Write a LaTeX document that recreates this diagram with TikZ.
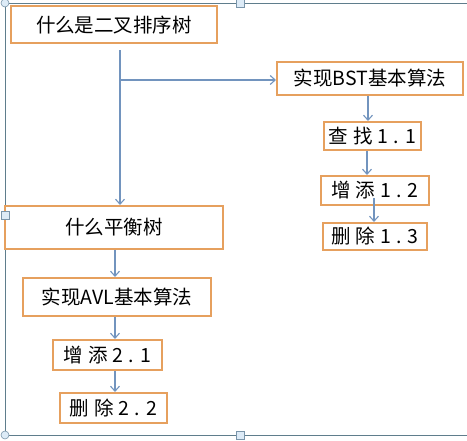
\documentclass[tikz,border=0pt]{standalone}
\usepackage{fontspec}
\setmainfont{Noto Sans CJK SC}
\usetikzlibrary{arrows.meta,positioning,calc}
\definecolor{boxorange}{HTML}{E6A05E}
\definecolor{arrowblue}{HTML}{7294BE}
\definecolor{framegray}{HTML}{5F7D8C}
\definecolor{handlefill}{HTML}{DDEBF7}
\definecolor{handleline}{HTML}{7A95AA}

\begin{document}
\begin{tikzpicture}[x=1pt, y=-1pt,
    every node/.style={font=\fontsize{19.5}{22}\selectfont},
    box/.style 2 args={draw=boxorange, line width=2pt, fill=white,
                       inner sep=0pt, minimum width=#1, minimum height=#2},
    spaced/.style={execute at begin node={\spaceskip=5pt\relax}},
    arr/.style={-{Straight Barb[length=5pt,width=9pt]}, arrowblue, line width=1.1pt},
    handle/.style={draw=handleline, fill=handlefill, line width=0.6pt}]
  \useasboundingbox (0,0) rectangle (467,441);
  \clip (0,0) rectangle (467,441);

  % selection frame
  \draw[framegray, line width=0.9pt] (475,3) -- (5,3) -- (5,435) -- (475,435);

  % boxes
  \node[box={206}{37}] (whatbst) at (114,25)    {什么是二叉排序树};
  \node[box={186}{33}] (bstalgo) at (370,78.5)  {实现BST基本算法};
  \node[box={97}{28},  spaced] (find1) at (372.5,136) {查 找 1 . 1};
  \node[box={108}{29}, spaced] (add1)  at (375,190.5) {增 添 1 . 2};
  \node[box={104}{27}, spaced] (del1)  at (375,236.5) {删 除 1 . 3};
  \node[box={218}{43}] (whatavl) at (114,227.5) {什么平衡树};
  \node[box={188}{38}] (avlalgo) at (117,297)   {实现AVL基本算法};
  \node[box={109}{30}, spaced] (add2) at (107.5,355) {增 添 2 . 1};
  \node[box={107}{30}, spaced] (del2) at (113.5,408) {删 除 2 . 2};

  % frame handles
  \draw[handle] (5,3) circle (4pt);
  \draw[handle] (5,435) circle (4pt);
  \draw[handle] (236,-1) rectangle (244,7);
  \draw[handle] (236,431) rectangle (244,439);
  \draw[handle] (1,211) rectangle (9,219);

  % connectors
  \coordinate (fork) at (120,80);
  \coordinate (rcola) at (368,0);
  \coordinate (rcolb) at (367,0);
  \coordinate (rcolc) at (374,0);
  \coordinate (lcol) at (115,0);
  \draw[arr] ($(whatbst.south -| fork)+(0,6)$) -- (whatavl.north -| fork);
  \draw[arr] (fork) -- (bstalgo.west |- fork);
  \draw[arr] (bstalgo.south -| rcola) -- (find1.north -| rcola);
  \draw[arr] (find1.south -| rcolb) -- (add1.north -| rcolb);
  \draw[arr] ($(add1.south -| rcolc)+(0,-8)$) -- (del1.north -| rcolc);
  \draw[arr] (whatavl.south -| lcol) -- (avlalgo.north -| lcol);
  \draw[arr] (avlalgo.south -| lcol) -- (add2.north -| lcol);
  \draw[arr] (add2.south -| lcol) -- (del2.north -| lcol);
\end{tikzpicture}
\end{document}
